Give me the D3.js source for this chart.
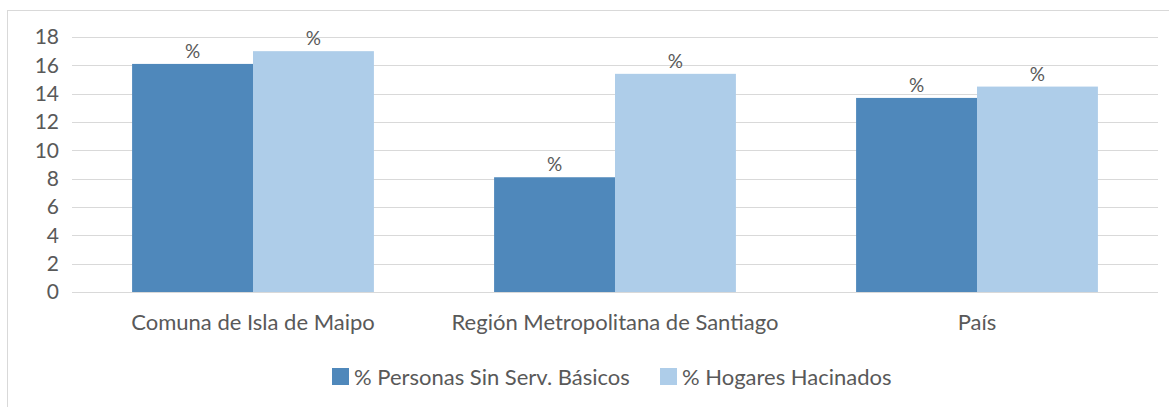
<!DOCTYPE html>
<html>
<head>
<meta charset="utf-8">
<script src="https://cdn.jsdelivr.net/npm/d3@7"></script>
<style>
  body { margin: 0; background: #fff; }
  svg text { font-family: "Lato", "Open Sans", sans-serif; fill: #595959; }
</style>
</head>
<body>
<svg id="chart" width="1169" height="407"></svg>
<script>
// Data
var categories = ["Comuna de Isla de Maipo", "Región Metropolitana de Santiago", "País"];
var seriesNames = ["% Personas Sin Serv. Básicos", "% Hogares Hacinados"];
var personasSinServ = [16.1, 8.1, 13.7];
var hogaresHacinados = [17.0, 15.4, 14.5];
var yTicks = [0, 2, 4, 6, 8, 10, 12, 14, 16, 18];
var colors = ["#4f88bb", "#aecde9"];

var svg = d3.select("#chart");

// Chart border
svg.append("rect")
  .attr("x", 7.5).attr("y", 10.5)
  .attr("width", 1170).attr("height", 420)
  .attr("fill", "none").attr("stroke", "#d9d9d9");

var margin = { left: 72, right: 11, top: 37, bottom: 115 };
var width = 1169 - margin.left - margin.right;
var height = 407 - margin.top - margin.bottom;

var g = svg.append("g").attr("transform", "translate(" + margin.left + "," + margin.top + ")");

var x = d3.scaleBand().domain(categories).range([0, width]).paddingInner(0.332).paddingOuter(0.166);
var xIn = d3.scaleBand().domain([0, 1]).range([0, x.bandwidth()]);
var y = d3.scaleLinear().domain([0, 18]).range([height, 0]);

// Gridlines
g.selectAll("line.grid").data(yTicks).enter().append("line")
  .attr("class", "grid")
  .attr("x1", 0).attr("x2", width)
  .attr("y1", function(d) { return Math.round(y(d)) + 0.5; })
  .attr("y2", function(d) { return Math.round(y(d)) + 0.5; })
  .attr("stroke", "#d9d9d9").attr("stroke-width", 1);

// Y axis labels
g.selectAll("text.ytick").data(yTicks).enter().append("text")
  .attr("class", "ytick")
  .attr("x", -13)
  .attr("y", function(d) { return y(d); })
  .attr("dy", "0.35em")
  .attr("text-anchor", "end")
  .attr("font-size", 21)
  .text(function(d) { return d; });

// Build grouped rows
var rows = categories.map(function(c, i) {
  return { name: c, values: [personasSinServ[i], hogaresHacinados[i]] };
});

var groups = g.selectAll("g.element-group").data(rows).enter().append("g")
  .attr("class", "element-group")
  .attr("transform", function(d) { return "translate(" + x(d.name) + ",0)"; });

groups.selectAll("rect").data(function(d) { return d.values; }).enter().append("rect")
  .attr("x", function(d, i) { return xIn(i); })
  .attr("y", function(d) { return y(d); })
  .attr("width", xIn.bandwidth())
  .attr("height", function(d) { return height - y(d); })
  .attr("fill", function(d, i) { return colors[i]; });

// Bar labels
groups.selectAll("text.label").data(function(d) { return d.values; }).enter().append("text")
  .attr("class", "label")
  .attr("x", function(d, i) { return xIn(i) + xIn.bandwidth() / 2; })
  .attr("y", function(d) { return y(d) - 6; })
  .attr("text-anchor", "middle")
  .attr("font-size", 19)
  .text("%");

// Category labels
g.selectAll("text.cat").data(categories).enter().append("text")
  .attr("class", "cat")
  .attr("x", function(d) { return x(d) + x.bandwidth() / 2; })
  .attr("y", height + 30)
  .attr("dy", "0.35em")
  .attr("text-anchor", "middle")
  .attr("font-size", 22)
  .text(function(d) { return d; });

// Legend
var legendX = [332, 660];
var legend = svg.selectAll("g.legend").data(seriesNames).enter().append("g")
  .attr("class", "legend")
  .attr("transform", function(d, i) { return "translate(" + legendX[i] + ",368)"; });
legend.append("rect").attr("width", 17).attr("height", 17)
  .attr("fill", function(d, i) { return colors[i]; });
legend.append("text").attr("x", 22).attr("y", 9).attr("dy", "0.35em")
  .attr("font-size", 22)
  .text(function(d) { return d; });
</script>
</body>
</html>
